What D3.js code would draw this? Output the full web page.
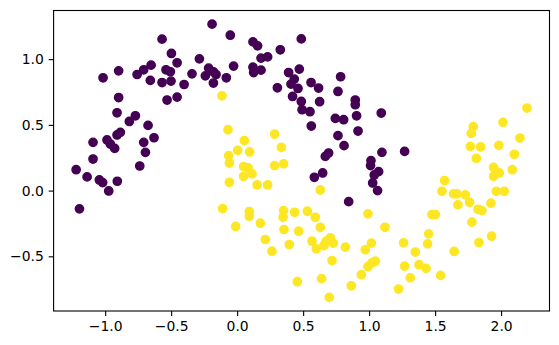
<!DOCTYPE html>
<html>
<head>
<meta charset="utf-8">
<script src="https://cdn.jsdelivr.net/npm/d3@7"></script>
<style>
  html, body { margin: 0; padding: 0; background: #fff; }
  svg { display: block; }
  .tick text { font-family: "DejaVu Sans", sans-serif; font-size: 13.9px; fill: #000; }
</style>
</head>
<body>
<svg id="chart" width="559" height="345"></svg>
<script>
// Two interleaving half-moons: class 0 (upper arc) and class 1 (lower arc)
const classUpper = [
  [-0.190, 1.266], [-0.569, 1.152], [-0.498, 1.043], [-0.455, 0.972], [-0.286, 1.002],
  [-0.898, 0.911], [-1.016, 0.858], [-0.758, 0.883], [-0.708, 0.919], [-0.652, 0.954],
  [-0.658, 0.838], [-0.539, 0.919], [-0.506, 0.904], [-0.569, 0.822], [-0.501, 0.833],
  [-0.402, 0.807], [-0.342, 0.888], [-0.216, 0.932], [-0.241, 0.873], [-0.180, 0.904],
  [-0.160, 0.883], [-0.180, 0.818], [-0.082, 0.858], [-0.898, 0.708], [-0.531, 0.689],
  [-0.455, 0.711], [-0.910, 0.592], [-0.771, 0.569], [-0.817, 0.526], [-0.675, 0.496],
  [-0.885, 0.443], [-0.910, 0.423], [-0.630, 0.402], [-0.986, 0.385], [-1.092, 0.367],
  [-0.961, 0.354], [-0.928, 0.321], [-0.708, 0.367], [-0.695, 0.291], [-1.092, 0.240],
  [-1.220, 0.159], [-1.137, 0.104], [-1.044, 0.081], [-1.019, 0.061], [-0.908, 0.071],
  [-0.973, -0.003], [-0.738, 0.187], [-1.195, -0.139],
  [-0.052, 1.182], [0.120, 1.131], [0.155, 1.101], [0.486, 1.154], [0.327, 1.071],
  [0.181, 1.008], [0.231, 1.017], [-0.027, 0.947], [0.120, 0.939], [0.181, 0.916],
  [0.125, 0.898], [0.390, 0.898], [0.471, 0.924], [0.433, 0.848], [0.408, 0.810],
  [0.461, 0.777], [0.305, 0.782], [0.560, 0.822], [0.617, 0.780], [0.784, 0.866],
  [0.764, 0.754], [0.420, 0.716], [0.486, 0.678], [0.625, 0.676], [0.492, 0.615],
  [0.552, 0.600], [0.562, 0.491], [0.895, 0.689], [0.895, 0.653], [0.905, 0.569],
  [0.744, 0.549], [0.807, 0.539], [0.916, 0.453], [1.092, 0.590], [0.764, 0.418],
  [0.810, 0.342], [0.693, 0.286], [0.668, 0.260], [1.014, 0.228], [1.097, 0.291],
  [0.585, 0.101], [0.648, 0.134], [1.011, 0.190], [1.072, 0.144], [1.039, 0.119],
  [1.027, 0.058], [1.064, 0.000], [0.845, -0.084], [1.269, 0.298]
];

const classLower = [
  [-0.115, 0.721], [-0.069, 0.463], [0.284, 0.430], [0.055, 0.380], [0.335, 0.329],
  [0.004, 0.306], [0.095, 0.294], [-0.064, 0.266], [-0.059, 0.210], [0.049, 0.182],
  [0.083, 0.172], [0.113, 0.127], [0.049, 0.109], [0.284, 0.190], [0.352, 0.203],
  [-0.059, 0.063], [0.151, 0.043], [0.231, 0.043], [0.630, 0.005], [-0.110, -0.137],
  [-0.011, -0.273], [0.092, -0.159], [0.092, -0.195], [0.176, -0.248], [0.352, -0.152],
  [0.348, -0.203], [0.436, -0.165], [0.532, -0.157], [0.592, -0.203], [0.630, -0.279],
  [0.355, -0.296], [0.466, -0.309], [0.214, -0.372], [0.264, -0.461], [0.395, -0.410],
  [0.567, -0.385], [0.600, -0.443], [0.658, -0.418], [0.673, -0.387], [0.706, -0.359],
  [0.729, -0.400], [0.820, -0.430], [0.719, -0.532], [0.991, -0.177], [1.120, -0.279],
  [1.017, -0.400], [0.971, -0.450], [1.047, -0.537], [1.022, -0.549], [0.991, -0.579],
  [0.941, -0.640], [0.456, -0.693], [0.640, -0.670], [0.865, -0.724], [0.698, -0.812],
  [2.196, 0.628], [2.014, 0.519], [1.789, 0.486], [1.774, 0.435], [2.143, 0.400],
  [1.767, 0.336], [1.845, 0.332], [1.983, 0.344], [2.100, 0.276], [1.812, 0.245],
  [1.943, 0.177], [1.986, 0.134], [1.943, 0.109], [2.085, 0.159], [1.572, 0.076],
  [1.552, -0.005], [1.640, -0.025], [1.666, -0.025], [1.729, -0.033], [1.761, -0.089],
  [1.673, -0.109], [1.964, -0.005], [2.024, -0.005], [1.923, -0.096], [1.825, -0.142],
  [1.855, -0.152], [1.779, -0.240], [1.476, -0.182], [1.502, -0.182], [1.451, -0.329],
  [1.443, -0.405], [1.261, -0.397], [1.350, -0.468], [1.645, -0.463], [1.832, -0.395],
  [1.928, -0.347], [1.269, -0.575], [1.378, -0.564], [1.431, -0.592], [1.542, -0.645],
  [1.312, -0.663], [1.223, -0.749]
];

const xTicks = [-1.0, -0.5, 0.0, 0.5, 1.0, 1.5, 2.0];
const yTicks = [-0.5, 0.0, 0.5, 1.0];
const classColors = ["#440154", "#fde725"];

// Plot frame
const frame = { left: 53.6, right: 549.5, top: 10.5, bottom: 311 };

const svg = d3.select("#chart");
svg.append("rect").attr("width", 559).attr("height", 345).attr("fill", "#fff");

// Domains padded by 5% of the data range on each side
const allPoints = classUpper.concat(classLower);
function padded(ext) {
  const m = (ext[1] - ext[0]) * 0.05;
  return [ext[0] - m, ext[1] + m];
}
const x = d3.scaleLinear().domain(padded(d3.extent(allPoints, d => d[0]))).range([frame.left, frame.right]);
const y = d3.scaleLinear().domain(padded(d3.extent(allPoints, d => d[1]))).range([frame.bottom, frame.top]);

const pts = classUpper.map(d => ({ p: d, c: 0 })).concat(classLower.map(d => ({ p: d, c: 1 })));

svg.append("g")
  .selectAll("circle")
  .data(pts)
  .join("circle")
  .attr("cx", d => x(d.p[0]))
  .attr("cy", d => y(d.p[1]))
  .attr("r", 4.17)
  .attr("fill", d => classColors[d.c])
  .attr("stroke", d => classColors[d.c])
  .attr("stroke-width", 1.39);

const fmt = v => d3.format(".1f")(v).replace("-", "\u2212");

const xAxis = svg.append("g")
  .attr("transform", `translate(0,${frame.bottom})`)
  .call(d3.axisBottom(x).tickValues(xTicks).tickFormat(fmt).tickSize(4.9).tickPadding(4.9));
const yAxis = svg.append("g")
  .attr("transform", `translate(${frame.left},0)`)
  .call(d3.axisLeft(y).tickValues(yTicks).tickFormat(fmt).tickSize(4.9).tickPadding(4.9));

[xAxis, yAxis].forEach(g => {
  g.select(".domain").remove();
  g.selectAll(".tick line").attr("stroke", "#000").attr("stroke-width", 1.1);
  g.selectAll(".tick text").attr("font-family", null).attr("font-size", null);
});

// Frame around the plotting area
svg.append("rect")
  .attr("x", frame.left).attr("y", frame.top)
  .attr("width", frame.right - frame.left).attr("height", frame.bottom - frame.top)
  .attr("fill", "none").attr("stroke", "#000").attr("stroke-width", 1.1);
</script>
</body>
</html>
